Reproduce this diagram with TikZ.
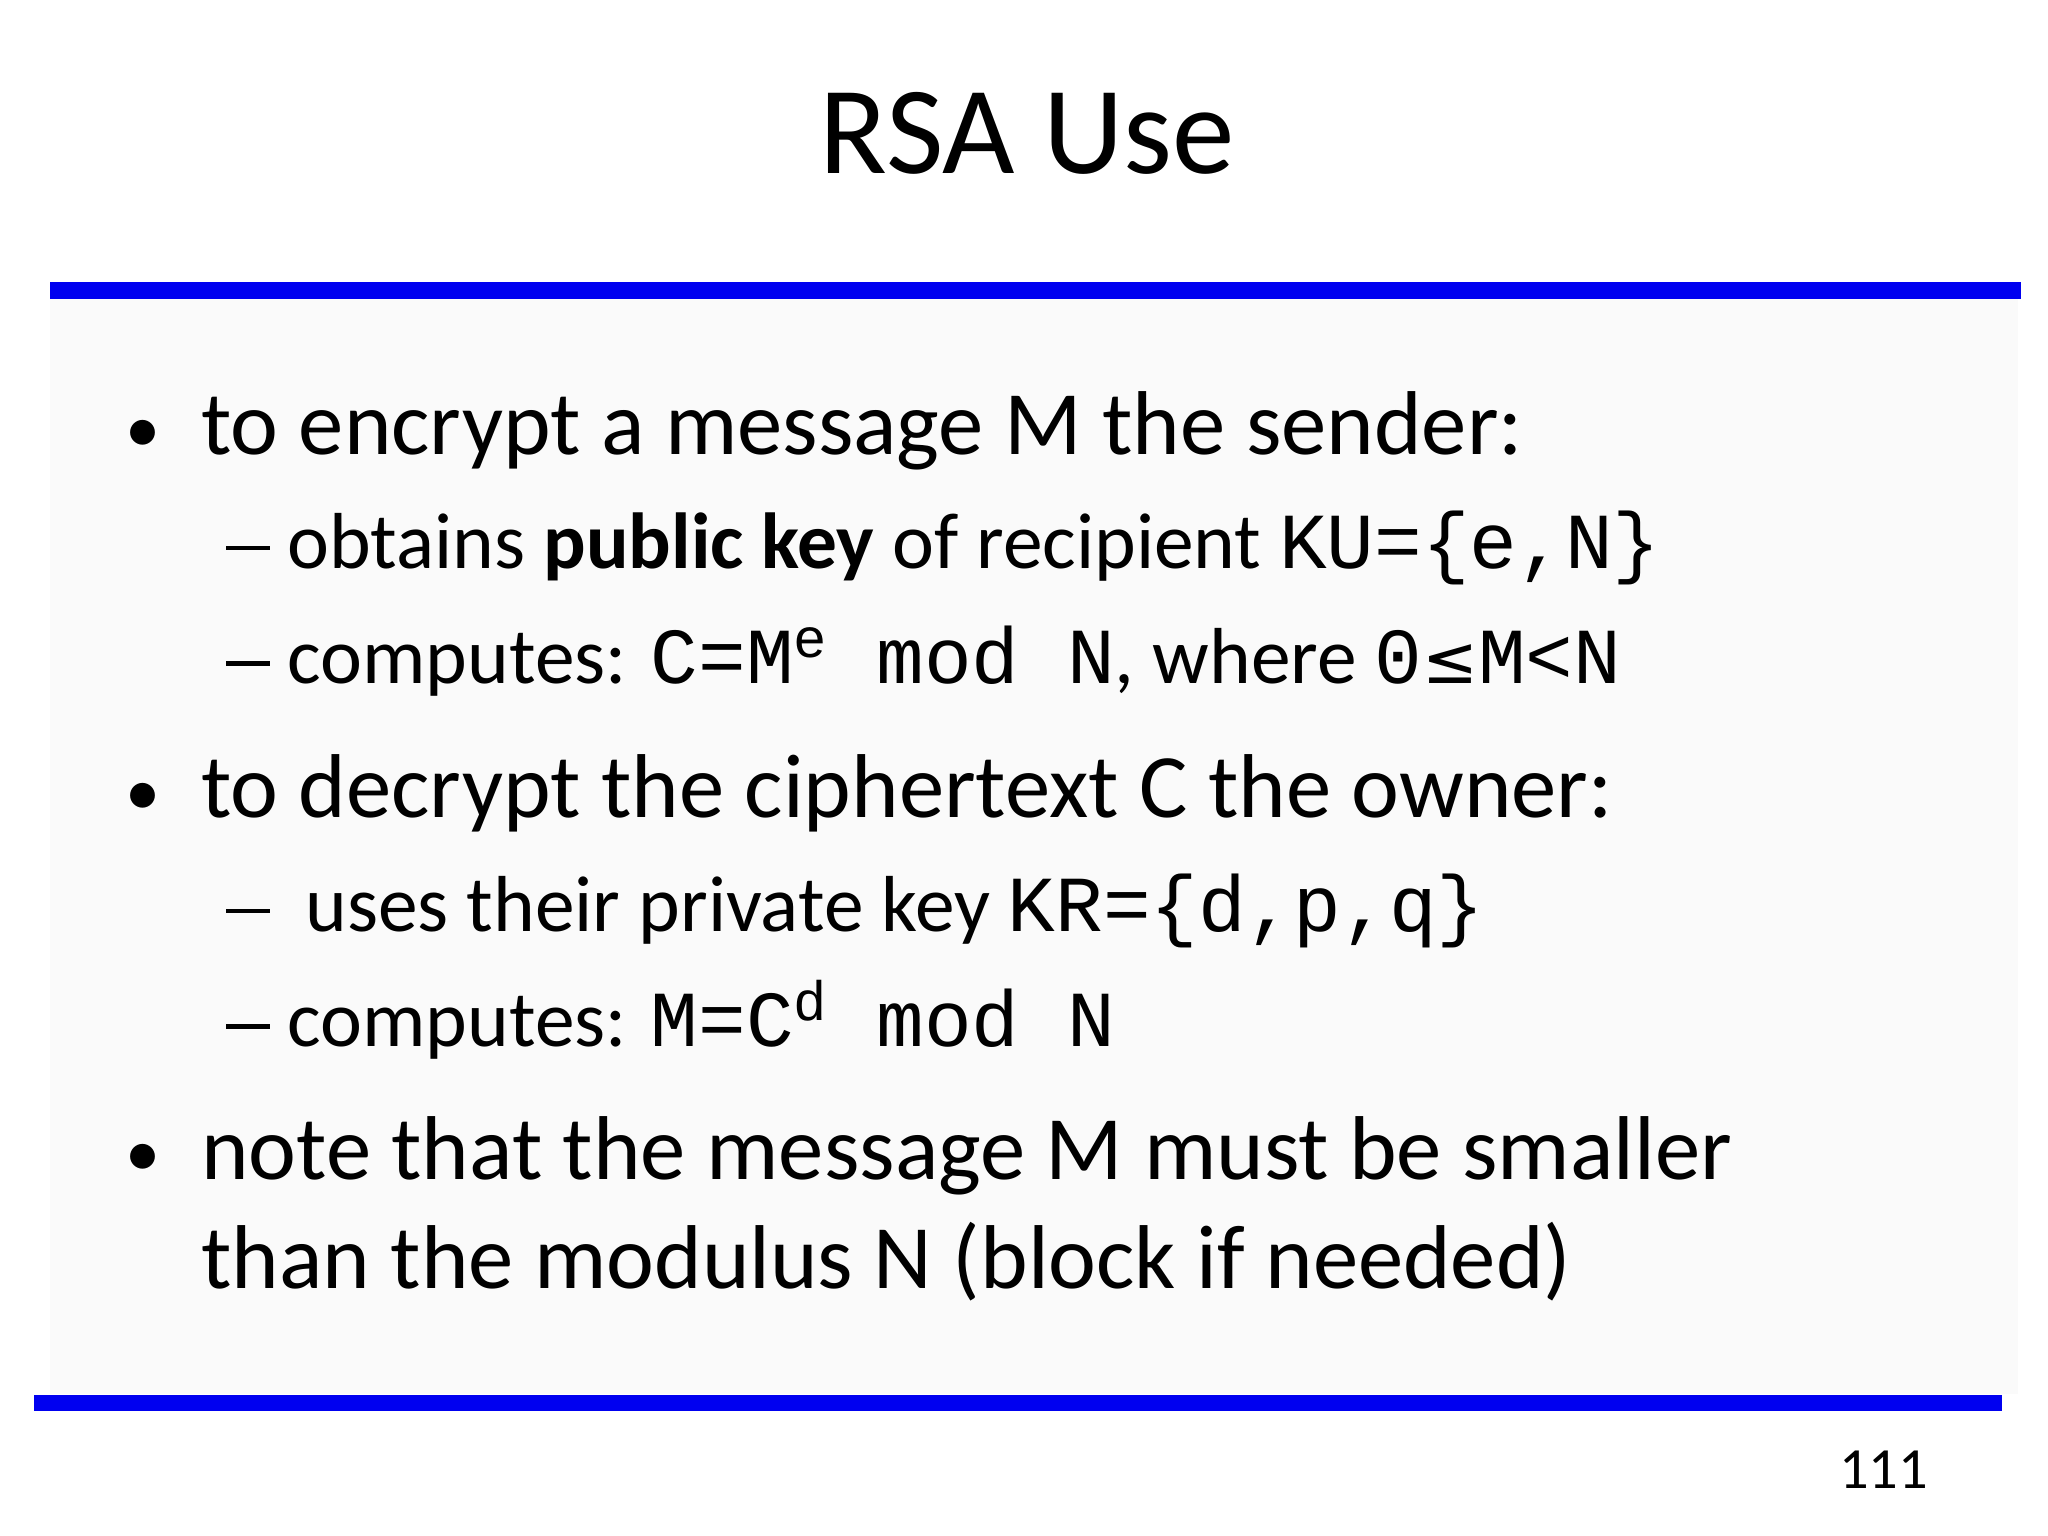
\documentclass[tikz,border=0pt]{standalone}
\usepackage{fontspec}
\setmainfont{Carlito}
\setmonofont{Liberation Mono}
\newfontfamily\cmono{Liberation Mono}
\newfontfamily\symf{DejaVu Sans}
\newcommand{\mt}[1]{{\cmono #1}}
\newcommand{\dsh}{\rule[0.23em]{0.55em}{0.06em}}
\begin{document}
\begin{tikzpicture}[x=0.0131cm,y=-0.0131cm,
 lvl1/.style={anchor=base west,inner sep=0,font=\fontsize{25.8}{30}\selectfont},
 lvl2/.style={anchor=base west,inner sep=0,font=\fontsize{22.6}{26}\selectfont},
 bul/.style={anchor=base west,inner sep=0,font=\fontsize{20}{24}\selectfont},
 bar/.style={draw=none,fill={rgb,255:red,0;green,0;blue,240}}]
\useasboundingbox (0,0) rectangle (1563,1172);
\fill[white] (0,0) rectangle (1563,1172);
\fill[gray!4] (38,228) rectangle (1540,1064);
\node[inner sep=0,font=\fontsize{35.6}{40}\selectfont] (title) at (784,102) {RSA Use};
\fill[bar] (38,215) rectangle (1542,228);
\fill[bar] (26,1065) rectangle (1528,1077);
\node[bul] (b1) at (95,345) {•};
\node[lvl1] (t1) at (153,347) {to encrypt a message M the sender:};
\node[lvl2] (s1) at (172,434) {\dsh{} obtains \textbf{public key} of recipient \mt{KU=\{e,N\}}};
\node[lvl2] (s2) at (172,522) {\dsh{} computes: \mt{C=M\textsuperscript{e} mod N}, where \mt{0{\symf\fontsize{19}{20}\selectfont ≤}M<N}};
\node[bul] (b2) at (95,622) {•};
\node[lvl1] (t2) at (153,624) {to decrypt the ciphertext C the owner:};
\node[lvl2] (s3) at (172,711) {\dsh\ \ uses their private key \mt{KR=\{d,p,q\}}};
\node[lvl2] (s4) at (172,799) {\dsh{} computes: \mt{M=C\textsuperscript{d} mod N}};
\node[bul] (b3) at (95,898) {•};
\node[lvl1] (t3) at (153,900) {note that the message M must be smaller};
\node[lvl1] (t4) at (153,983) {than the modulus N (block if needed)};
\node[anchor=base east,inner sep=0,font=\fontsize{16.6}{20}\selectfont] (pg) at (1472,1136) {111};
\end{tikzpicture}
\end{document}
